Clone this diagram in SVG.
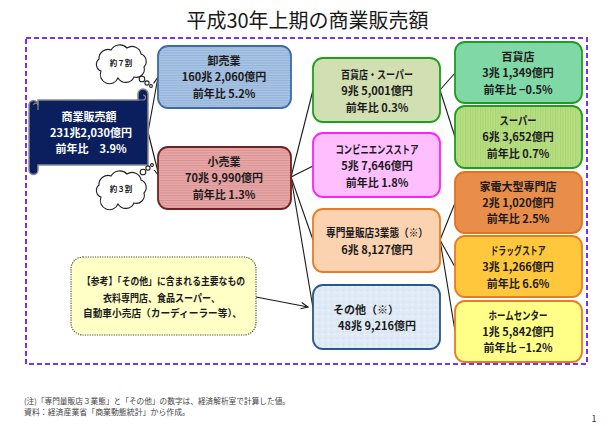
<svg xmlns="http://www.w3.org/2000/svg" width="615" height="426" viewBox="0 0 615 426">
<defs>
<style>
text{font-family:"Noto Sans CJK JP","Liberation Sans",sans-serif;}
.t{font-size:11px;font-weight:bold;fill:#1a1a1a;text-anchor:middle;}
.w{font-size:11px;font-weight:bold;fill:#ffffff;text-anchor:middle;}
.c{font-size:7.5px;font-weight:bold;fill:#1a1a1a;text-anchor:middle;}
.n{font-size:10px;font-weight:bold;fill:#1a1a1a;text-anchor:middle;}
.f{font-size:7.8px;fill:#444;}
.box{stroke-width:1.8;}
.ln{stroke:#1a1a1a;stroke-width:1.1;fill:none;}
.cloud{fill:#fff;stroke:#222;stroke-width:1.1;}
</style>
<pattern id="pBlue" width="4" height="2.5" patternUnits="userSpaceOnUse">
<rect width="4" height="2.5" fill="#a8c3e3"/><rect width="4" height="0.9" fill="#93b2d9"/>
</pattern>
<pattern id="pRed" width="4" height="2.5" patternUnits="userSpaceOnUse">
<rect width="4" height="2.5" fill="#e8a7a7"/><rect width="4" height="0.9" fill="#d69191"/>
</pattern>
<pattern id="pGreen" width="2.5" height="4" patternUnits="userSpaceOnUse">
<rect width="2.5" height="4" fill="#b8de84"/><rect width="0.9" height="4" fill="#a8d470"/>
</pattern>
<pattern id="pSky" width="6" height="6" patternUnits="userSpaceOnUse">
<rect width="6" height="6" fill="#dfeaf6"/><circle cx="1.5" cy="2" r="0.8" fill="#cddff1"/><circle cx="4.5" cy="4.5" r="0.9" fill="#eef4fb"/>
</pattern>
<marker id="arr" markerWidth="9" markerHeight="8" refX="7.5" refY="4" orient="auto" markerUnits="userSpaceOnUse">
<path d="M0.5,0.8 L7.5,4 L0.5,7.2" fill="none" stroke="#1a1a1a" stroke-width="1.1"/>
</marker>
<path id="cloudShape" d="M-20,8 A7,7 0 0 1 -22,-4 A9,9 0 0 1 -10,-13 A10,10 0 0 1 6,-15 A9,9 0 0 1 20,-9 A8,8 0 0 1 23,4 A8,8 0 0 1 13,14 A9,9 0 0 1 -3,15 A9,9 0 0 1 -20,8 Z"/>
</defs>
<rect width="615" height="426" fill="#ffffff"/>

<text x="307.5" y="28" style="font-size:20px;fill:#1a1a1a;text-anchor:middle;">平成30年上期の商業販売額</text>

<rect x="26" y="38" width="561" height="326" fill="none" stroke="#7b2ff7" stroke-width="2" stroke-dasharray="5,3"/>

<g id="connectors">
<line class="ln" x1="148" y1="132" x2="158" y2="77" marker-end="url(#arr)"/>
<line class="ln" x1="148" y1="132" x2="159" y2="176" marker-end="url(#arr)"/>
<line class="ln" x1="291" y1="177" x2="313" y2="90"/>
<line class="ln" x1="291" y1="177" x2="313" y2="166"/>
<line class="ln" x1="291" y1="177" x2="313" y2="240"/>
<line class="ln" x1="291" y1="177" x2="313" y2="308"/>
<line class="ln" x1="440" y1="90" x2="455" y2="73"/>
<line class="ln" x1="440" y1="90" x2="455" y2="137"/>
<line class="ln" x1="440" y1="240" x2="455" y2="203"/>
<line class="ln" x1="440" y1="240" x2="455" y2="267"/>
<line class="ln" x1="440" y1="240" x2="455" y2="331"/>
<line class="ln" x1="256" y1="297" x2="308" y2="307" marker-end="url(#arr)"/>
</g>

<g id="total">
<path d="M38,100 H138 V94 A5,5 0 0 1 148,94 V165 H38 V170 A4.5,4.5 0 0 1 29,170 V105 A4.5,4.5 0 0 1 38,105 Z" fill="#0b1f5f" stroke="#8a8a8a" stroke-width="1.5"/>
<path d="M138,100 H143 A2.5,2.5 0 0 0 143,95" fill="none" stroke="#8a8a8a" stroke-width="1.2"/>
<path d="M33.5,105 A2.3,2.3 0 0 1 38,105 V110" fill="none" stroke="#8a8a8a" stroke-width="1.2"/>
<text class="w" x="89" y="121">商業販売額</text>
<text class="w" x="91" y="137">231兆2,030億円</text>
<text class="w" x="91" y="153">前年比　3.9%</text>
</g>

<g id="cloud7">
<use href="#cloudShape" x="121" y="63" class="cloud"/>
<circle class="cloud" cx="142" cy="79" r="2.8"/>
<circle class="cloud" cx="147" cy="83" r="2.1"/>
<circle class="cloud" cx="151" cy="86" r="1.4"/>
<text class="c" x="121" y="66">約７割</text>
</g>

<g id="cloud3">
<use href="#cloudShape" x="121" y="189" class="cloud"/>
<circle class="cloud" cx="143" cy="172" r="2.8"/>
<circle class="cloud" cx="148" cy="168" r="2.1"/>
<circle class="cloud" cx="152" cy="165" r="1.4"/>
<text class="c" x="121" y="192">約３割</text>
</g>

<g id="wholesale">
<rect class="box" x="158" y="46" width="133" height="62" rx="10" fill="url(#pBlue)" stroke="#3f6aa5"/>
<text class="t" x="224" y="65">卸売業</text>
<text class="t" x="224" y="81">160兆 2,060億円</text>
<text class="t" x="224" y="98">前年比 5.2%</text>
</g>

<g id="retail">
<rect class="box" x="158" y="147" width="133" height="62" rx="10" fill="url(#pRed)" stroke="#6e2222"/>
<text class="t" x="224" y="166">小売業</text>
<text class="t" x="224" y="182">70兆 9,990億円</text>
<text class="t" x="224" y="199">前年比 1.3%</text>
</g>

<g id="dept-super">
<rect class="box" x="313" y="58" width="127" height="64" rx="10" fill="#d2dfb2" stroke="#1e9e1e"/>
<text class="t" x="377" y="79" textLength="72" lengthAdjust="spacingAndGlyphs">百貨店・スーパー</text>
<text class="t" x="377" y="95">9兆 5,001億円</text>
<text class="t" x="377" y="112">前年比 0.3%</text>
</g>

<g id="convenience">
<rect class="box" x="313" y="133" width="127" height="64" rx="10" fill="#ffbfff" stroke="#ff1fff"/>
<text class="t" x="377" y="154" textLength="83" lengthAdjust="spacingAndGlyphs">コンビニエンスストア</text>
<text class="t" x="377" y="170">5兆 7,646億円</text>
<text class="t" x="377" y="187">前年比 1.8%</text>
</g>

<g id="specialty">
<rect class="box" x="313" y="209" width="127" height="63" rx="10" fill="#fcd3b1" stroke="#e97b22"/>
<text class="t" x="377" y="237" textLength="102" lengthAdjust="spacingAndGlyphs">専門量販店3業態（※）</text>
<text class="t" x="377" y="254">6兆 8,127億円</text>
</g>

<g id="other">
<rect class="box" x="313" y="285" width="127" height="64" rx="10" fill="url(#pSky)" stroke="#2a568f"/>
<text class="t" x="366" y="314">その他（※）</text>
<text class="t" x="377" y="330">48兆 9,216億円</text>
</g>

<g id="dept">
<rect class="box" x="455" y="42" width="127" height="61" rx="10" fill="#7fd8a6" stroke="#1e9e1e"/>
<text class="t" x="518" y="61">百貨店</text>
<text class="t" x="518" y="77">3兆 1,349億円</text>
<text class="t" x="518" y="94">前年比 −0.5%</text>
</g>

<g id="super">
<rect class="box" x="455" y="106" width="127" height="62" rx="10" fill="url(#pGreen)" stroke="#1e9e1e"/>
<text class="t" x="518" y="125" textLength="37" lengthAdjust="spacingAndGlyphs">スーパー</text>
<text class="t" x="518" y="141">6兆 3,652億円</text>
<text class="t" x="518" y="158">前年比 0.7%</text>
</g>

<g id="electronics">
<rect class="box" x="455" y="172" width="127" height="61" rx="10" fill="#e88d4a" stroke="#e3731d"/>
<text class="t" x="518" y="191">家電大型専門店</text>
<text class="t" x="518" y="207">2兆 1,020億円</text>
<text class="t" x="518" y="223">前年比 2.5%</text>
</g>

<g id="drugstore">
<rect class="box" x="455" y="236" width="127" height="61" rx="10" fill="#ffc83c" stroke="#e97b22"/>
<text class="t" x="518" y="255" textLength="55" lengthAdjust="spacingAndGlyphs">ドラッグストア</text>
<text class="t" x="518" y="271">3兆 1,266億円</text>
<text class="t" x="518" y="288">前年比 6.6%</text>
</g>

<g id="homecenter">
<rect class="box" x="455" y="301" width="127" height="61" rx="10" fill="#ffff88" stroke="#e97b22"/>
<text class="t" x="518" y="320" textLength="59" lengthAdjust="spacingAndGlyphs">ホームセンター</text>
<text class="t" x="518" y="336">1兆 5,842億円</text>
<text class="t" x="518" y="352">前年比 −1.2%</text>
</g>

<g id="note">
<rect x="71" y="257" width="185" height="78" rx="12" fill="#ffffc6" stroke="#444" stroke-width="1.1" stroke-dasharray="1.2,1.2"/>
<text class="n" x="163.5" y="285" textLength="163" lengthAdjust="spacingAndGlyphs">【参考】「その他」に含まれる主要なもの</text>
<text class="n" x="161.5" y="302" textLength="117" lengthAdjust="spacingAndGlyphs">衣料専門店、食品スーパー、</text>
<text class="n" x="162.5" y="317" textLength="159" lengthAdjust="spacingAndGlyphs">自動車小売店（カーディーラー等）、</text>
</g>

<text class="f" x="24" y="404" textLength="266" lengthAdjust="spacingAndGlyphs">(注)「専門量販店３業態」と「その他」の数字は、経済解析室で計算した値。</text>
<text class="f" x="24" y="415" textLength="166" lengthAdjust="spacingAndGlyphs">資料：経済産業省「商業動態統計」から作成。</text>
<text x="594" y="422" style="font-size:9px;fill:#333;text-anchor:middle;">1</text>
</svg>
